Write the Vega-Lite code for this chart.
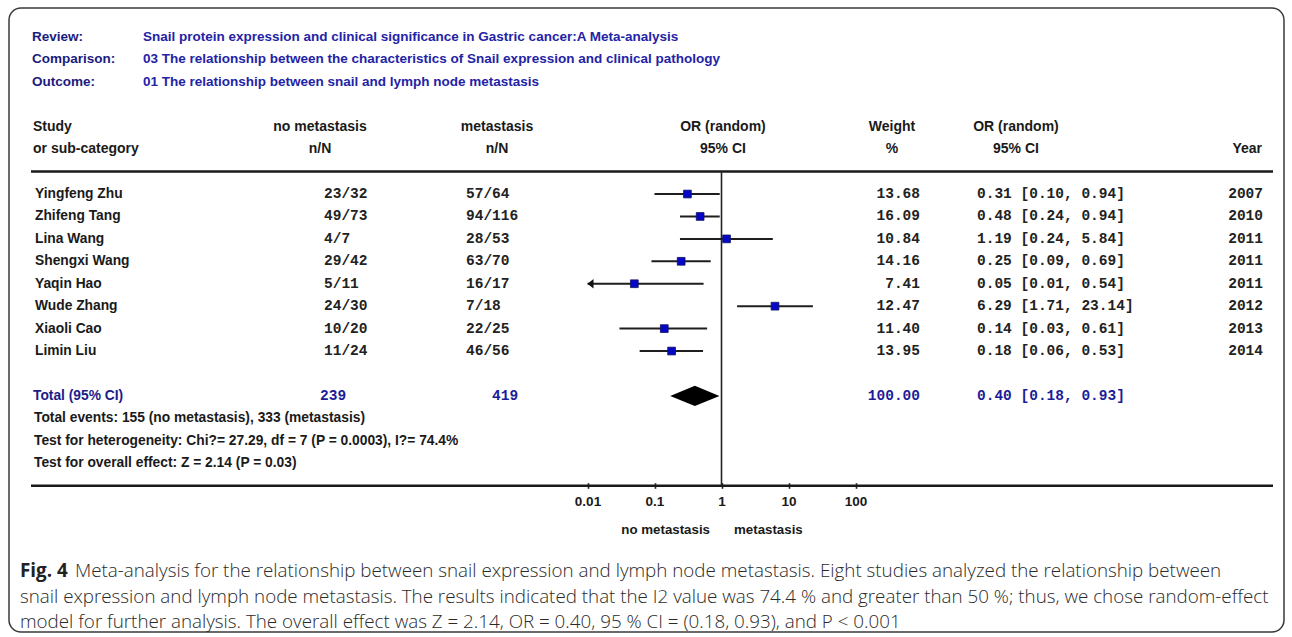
{
  "$schema": "https://vega.github.io/schema/vega-lite/v6.json",
  "width": 1292,
  "height": 637,
  "autosize": {"type": "fit", "contains": "padding"},
  "padding": {"left": 9, "top": 8, "right": 8, "bottom": 5},
  "background": "white",
  "config": {
    "view": {"stroke": "#3a3a3a", "strokeWidth": 1.5, "cornerRadius": 12},
    "text": {"baseline": "middle"}
  },
  "datasets": {
    "studies": [
      {"study": "Yingfeng Zhu", "nm": "23/32", "m": "57/64", "weight": 13.68, "or": 0.31, "lo": 0.10, "hi": 0.94, "ci": "0.31 [0.10, 0.94]", "year": "2007"},
      {"study": "Zhifeng Tang", "nm": "49/73", "m": "94/116", "weight": 16.09, "or": 0.48, "lo": 0.24, "hi": 0.94, "ci": "0.48 [0.24, 0.94]", "year": "2010"},
      {"study": "Lina Wang", "nm": "4/7", "m": "28/53", "weight": 10.84, "or": 1.19, "lo": 0.24, "hi": 5.84, "ci": "1.19 [0.24, 5.84]", "year": "2011"},
      {"study": "Shengxi Wang", "nm": "29/42", "m": "63/70", "weight": 14.16, "or": 0.25, "lo": 0.09, "hi": 0.69, "ci": "0.25 [0.09, 0.69]", "year": "2011"},
      {"study": "Yaqin Hao", "nm": "5/11", "m": "16/17", "weight": 7.41, "or": 0.05, "lo": 0.01, "hi": 0.54, "ci": "0.05 [0.01, 0.54]", "year": "2011"},
      {"study": "Wude Zhang", "nm": "24/30", "m": "7/18", "weight": 12.47, "or": 6.29, "lo": 1.71, "hi": 23.14, "ci": "6.29 [1.71, 23.14]", "year": "2012"},
      {"study": "Xiaoli Cao", "nm": "10/20", "m": "22/25", "weight": 11.40, "or": 0.14, "lo": 0.03, "hi": 0.61, "ci": "0.14 [0.03, 0.61]", "year": "2013"},
      {"study": "Limin Liu", "nm": "11/24", "m": "46/56", "weight": 13.95, "or": 0.18, "lo": 0.06, "hi": 0.53, "ci": "0.18 [0.06, 0.53]", "year": "2014"}
    ],
    "pooled": [
      {"slot": "total", "label": "Total (95% CI)", "nm_total": "239", "m_total": "419", "weight": 100.00, "or": 0.40, "lo": 0.18, "hi": 0.93, "ci": "0.40 [0.18, 0.93]"}
    ],
    "header": [
      {"slot": "hdr1", "label": "Review:", "value": "Snail protein expression and clinical significance in Gastric cancer:A Meta-analysis"},
      {"slot": "hdr2", "label": "Comparison:", "value": "03 The relationship between the characteristics of Snail expression and clinical pathology"},
      {"slot": "hdr3", "label": "Outcome:", "value": "01 The relationship between snail and lymph node metastasis"}
    ],
    "columns": [
      {"slot": "colh1", "study": "Study", "nm": "no metastasis", "m": "metastasis", "plot": "OR (random)", "w": "Weight", "orci": "OR (random)", "year": ""},
      {"slot": "colh2", "study": "or sub-category", "nm": "n/N", "m": "n/N", "plot": "95% CI", "w": "%", "orci": "95% CI", "year": "Year"}
    ],
    "notes": [
      {"slot": "events", "text": "Total events: 155 (no metastasis), 333 (metastasis)"},
      {"slot": "het", "text": "Test for heterogeneity: Chi?= 27.29, df = 7 (P = 0.0003), I?= 74.4%"},
      {"slot": "effect", "text": "Test for overall effect: Z = 2.14 (P = 0.03)"}
    ],
    "lines": [{"slot": "sep"}, {"slot": "axisline"}],
    "nullline": [{"or": 1, "from": "sep", "to": "axisline"}],
    "favours": [
      {"slot": "subtitle", "label": "no metastasis", "side": "left"},
      {"slot": "subtitle", "label": "metastasis", "side": "right"}
    ],
    "caption": [
      {"slot": "cap1", "part": "fig", "text": "Fig. 4"},
      {"slot": "cap1", "part": "body", "text": "Meta-analysis for the relationship between snail expression and lymph node metastasis. Eight studies analyzed the relationship between"},
      {"slot": "cap2", "part": "body", "text": "snail expression and lymph node metastasis. The results indicated that the I2 value was 74.4 % and greater than 50 %; thus, we chose random-effect"},
      {"slot": "cap3", "part": "body", "text": "model for further analysis. The overall effect was Z = 2.14, OR = 0.40, 95 % CI = (0.18, 0.93), and P < 0.001"}
    ]
  },
  "layer": [
    {
      "layer": [
        {
          "data": {"name": "header"},
          "mark": {"type": "text", "align": "left", "font": "Liberation Sans, Arial, sans-serif", "fontSize": 13.5, "fontWeight": "bold", "color": "#1b1b7e"},
          "encoding": {
            "x": {"datum": 23, "type": "quantitative", "scale": {"domain": [0, 1275], "nice": false, "zero": false}, "axis": null},
            "y": {"field": "slot", "type": "nominal", "scale": {"type": "point", "domain": ["hdr1","hdr2","hdr3","gap1","colh1","colh2","sep","Yingfeng Zhu","Zhifeng Tang","Lina Wang","Shengxi Wang","Yaqin Hao","Wude Zhang","Xiaoli Cao","Limin Liu","gap2","total","events","het","effect","axisline","ticks","subtitle","gap3","cap1","cap2","cap3"], "padding": 0.909, "align": 0.711}, "axis": null},
            "text": {"field": "label"}
          }
        },
        {
          "data": {"name": "header"},
          "mark": {"type": "text", "align": "left", "font": "Liberation Sans, Arial, sans-serif", "fontSize": 13.5, "fontWeight": "bold", "color": "#2323a6"},
          "encoding": {
            "x": {"datum": 134, "type": "quantitative"},
            "y": {"field": "slot", "type": "nominal"},
            "text": {"field": "value"}
          }
        },
        {
          "data": {"name": "columns"},
          "mark": {"type": "text", "align": "left", "font": "Liberation Sans, Arial, sans-serif", "fontSize": 14, "fontWeight": "bold", "color": "#1a1a1a"},
          "encoding": {"x": {"datum": 24, "type": "quantitative"}, "y": {"field": "slot", "type": "nominal"}, "text": {"field": "study"}}
        },
        {
          "data": {"name": "columns"},
          "mark": {"type": "text", "align": "center", "font": "Liberation Sans, Arial, sans-serif", "fontSize": 14, "fontWeight": "bold", "color": "#1a1a1a"},
          "encoding": {"x": {"datum": 311, "type": "quantitative"}, "y": {"field": "slot", "type": "nominal"}, "text": {"field": "nm"}}
        },
        {
          "data": {"name": "columns"},
          "mark": {"type": "text", "align": "center", "font": "Liberation Sans, Arial, sans-serif", "fontSize": 14, "fontWeight": "bold", "color": "#1a1a1a"},
          "encoding": {"x": {"datum": 488, "type": "quantitative"}, "y": {"field": "slot", "type": "nominal"}, "text": {"field": "m"}}
        },
        {
          "data": {"name": "columns"},
          "mark": {"type": "text", "align": "center", "font": "Liberation Sans, Arial, sans-serif", "fontSize": 14, "fontWeight": "bold", "color": "#1a1a1a"},
          "encoding": {"x": {"datum": 714, "type": "quantitative"}, "y": {"field": "slot", "type": "nominal"}, "text": {"field": "plot"}}
        },
        {
          "data": {"name": "columns"},
          "mark": {"type": "text", "align": "center", "font": "Liberation Sans, Arial, sans-serif", "fontSize": 14, "fontWeight": "bold", "color": "#1a1a1a"},
          "encoding": {"x": {"datum": 883, "type": "quantitative"}, "y": {"field": "slot", "type": "nominal"}, "text": {"field": "w"}}
        },
        {
          "data": {"name": "columns"},
          "mark": {"type": "text", "align": "center", "font": "Liberation Sans, Arial, sans-serif", "fontSize": 14, "fontWeight": "bold", "color": "#1a1a1a"},
          "encoding": {"x": {"datum": 1007, "type": "quantitative"}, "y": {"field": "slot", "type": "nominal"}, "text": {"field": "orci"}}
        },
        {
          "data": {"name": "columns"},
          "mark": {"type": "text", "align": "right", "font": "Liberation Sans, Arial, sans-serif", "fontSize": 14, "fontWeight": "bold", "color": "#1a1a1a"},
          "encoding": {"x": {"datum": 1253, "type": "quantitative"}, "y": {"field": "slot", "type": "nominal"}, "text": {"field": "year"}}
        },
        {
          "data": {"name": "studies"},
          "mark": {"type": "text", "align": "left", "font": "Liberation Sans, Arial, sans-serif", "fontSize": 13.8, "fontWeight": "bold", "color": "#1a1a1a"},
          "encoding": {"x": {"datum": 26, "type": "quantitative"}, "y": {"field": "study", "type": "nominal"}, "text": {"field": "study"}}
        },
        {
          "data": {"name": "studies"},
          "mark": {"type": "text", "align": "left", "font": "Liberation Mono, Courier New, monospace", "fontSize": 14.5, "fontWeight": "bold", "color": "#222222"},
          "encoding": {"x": {"datum": 315, "type": "quantitative"}, "y": {"field": "study", "type": "nominal"}, "text": {"field": "nm"}}
        },
        {
          "data": {"name": "studies"},
          "mark": {"type": "text", "align": "left", "font": "Liberation Mono, Courier New, monospace", "fontSize": 14.5, "fontWeight": "bold", "color": "#222222"},
          "encoding": {"x": {"datum": 457, "type": "quantitative"}, "y": {"field": "study", "type": "nominal"}, "text": {"field": "m"}}
        },
        {
          "data": {"name": "studies"},
          "mark": {"type": "text", "align": "right", "font": "Liberation Mono, Courier New, monospace", "fontSize": 14.5, "fontWeight": "bold", "color": "#222222"},
          "encoding": {"x": {"datum": 911, "type": "quantitative"}, "y": {"field": "study", "type": "nominal"}, "text": {"field": "weight", "type": "quantitative", "format": ".2f"}}
        },
        {
          "data": {"name": "studies"},
          "mark": {"type": "text", "align": "left", "font": "Liberation Mono, Courier New, monospace", "fontSize": 14.5, "fontWeight": "bold", "color": "#222222"},
          "encoding": {"x": {"datum": 968, "type": "quantitative"}, "y": {"field": "study", "type": "nominal"}, "text": {"field": "ci"}}
        },
        {
          "data": {"name": "studies"},
          "mark": {"type": "text", "align": "right", "font": "Liberation Mono, Courier New, monospace", "fontSize": 14.5, "fontWeight": "bold", "color": "#222222"},
          "encoding": {"x": {"datum": 1254, "type": "quantitative"}, "y": {"field": "study", "type": "nominal"}, "text": {"field": "year"}}
        },
        {
          "data": {"name": "pooled"},
          "mark": {"type": "text", "align": "left", "font": "Liberation Sans, Arial, sans-serif", "fontSize": 13.8, "fontWeight": "bold", "color": "#1c1c8a"},
          "encoding": {"x": {"datum": 24, "type": "quantitative"}, "y": {"field": "slot", "type": "nominal"}, "text": {"field": "label"}}
        },
        {
          "data": {"name": "pooled"},
          "mark": {"type": "text", "align": "left", "font": "Liberation Mono, Courier New, monospace", "fontSize": 14.5, "fontWeight": "bold", "color": "#1c1c99"},
          "encoding": {"x": {"datum": 311, "type": "quantitative"}, "y": {"field": "slot", "type": "nominal"}, "text": {"field": "nm_total"}}
        },
        {
          "data": {"name": "pooled"},
          "mark": {"type": "text", "align": "left", "font": "Liberation Mono, Courier New, monospace", "fontSize": 14.5, "fontWeight": "bold", "color": "#1c1c99"},
          "encoding": {"x": {"datum": 483, "type": "quantitative"}, "y": {"field": "slot", "type": "nominal"}, "text": {"field": "m_total"}}
        },
        {
          "data": {"name": "pooled"},
          "mark": {"type": "text", "align": "right", "font": "Liberation Mono, Courier New, monospace", "fontSize": 14.5, "fontWeight": "bold", "color": "#1c1c99"},
          "encoding": {"x": {"datum": 911, "type": "quantitative"}, "y": {"field": "slot", "type": "nominal"}, "text": {"field": "weight", "type": "quantitative", "format": ".2f"}}
        },
        {
          "data": {"name": "pooled"},
          "mark": {"type": "text", "align": "left", "font": "Liberation Mono, Courier New, monospace", "fontSize": 14.5, "fontWeight": "bold", "color": "#1c1c99"},
          "encoding": {"x": {"datum": 968, "type": "quantitative"}, "y": {"field": "slot", "type": "nominal"}, "text": {"field": "ci"}}
        },
        {
          "data": {"name": "notes"},
          "mark": {"type": "text", "align": "left", "font": "Liberation Sans, Arial, sans-serif", "fontSize": 13.8, "fontWeight": "bold", "color": "#1a1a1a"},
          "encoding": {"x": {"datum": 25, "type": "quantitative"}, "y": {"field": "slot", "type": "nominal"}, "text": {"field": "text"}}
        },
        {
          "data": {"name": "lines"},
          "mark": {"type": "rule", "color": "#1a1a1a", "strokeWidth": 2.5},
          "encoding": {"x": {"datum": 22, "type": "quantitative"}, "x2": {"datum": 1264}, "y": {"field": "slot", "type": "nominal"}}
        },
        {
          "data": {"name": "caption"},
          "transform": [{"filter": "datum.part == 'fig'"}],
          "mark": {"type": "text", "align": "left", "dy": -4, "font": "Open Sans, sans-serif", "fontSize": 18.8, "fontWeight": "bold", "color": "#222222"},
          "encoding": {"x": {"datum": 11, "type": "quantitative"}, "y": {"field": "slot", "type": "nominal"}, "text": {"field": "text"}}
        },
        {
          "data": {"name": "caption"},
          "transform": [{"filter": "datum.part == 'body' && datum.slot == 'cap1'"}],
          "mark": {"type": "text", "align": "left", "dy": -4, "font": "Open Sans, sans-serif", "fontSize": 18.8, "fontWeight": 300, "color": "#2a2a2a"},
          "encoding": {"x": {"datum": 66, "type": "quantitative"}, "y": {"field": "slot", "type": "nominal"}, "text": {"field": "text"}}
        },
        {
          "data": {"name": "caption"},
          "transform": [{"filter": "datum.slot == 'cap2'"}],
          "mark": {"type": "text", "align": "left", "dy": -1, "font": "Open Sans, sans-serif", "fontSize": 18.8, "fontWeight": 300, "color": "#2a2a2a"},
          "encoding": {"x": {"datum": 11, "type": "quantitative"}, "y": {"field": "slot", "type": "nominal"}, "text": {"field": "text"}}
        },
        {
          "data": {"name": "caption"},
          "transform": [{"filter": "datum.slot == 'cap3'"}],
          "mark": {"type": "text", "align": "left", "dy": 1.5, "font": "Open Sans, sans-serif", "fontSize": 18.8, "fontWeight": 300, "color": "#2a2a2a"},
          "encoding": {"x": {"datum": 11, "type": "quantitative"}, "y": {"field": "slot", "type": "nominal"}, "text": {"field": "text"}}
        }
      ]
    },
    {
      "layer": [
        {
          "data": {"name": "nullline"},
          "mark": {"type": "rule", "color": "#222222", "strokeWidth": 1.6},
          "encoding": {
            "x": {"field": "or", "type": "quantitative", "scale": {"type": "log", "domain": [0.01, 100], "range": [578.5, 846.5], "nice": false},
                  "axis": {"orient": "bottom", "offset": -149.3, "values": [0.01, 0.1, 1, 10, 100], "format": "~g", "title": null, "grid": false, "domain": false, "ticks": true, "tickSize": 5.6, "tickWidth": 1.6, "tickColor": "#222222", "labelPadding": 6.5, "labelFont": "Liberation Sans, Arial, sans-serif", "labelFontSize": 13.5, "labelFontWeight": "bold", "labelColor": "#1a1a1a", "labelFlush": false, "labelOverlap": false}},
            "y": {"field": "from", "type": "nominal"},
            "y2": {"field": "to"}
          }
        },
        {
          "data": {"name": "studies"},
          "mark": {"type": "rule", "color": "#1e1e1e", "strokeWidth": 2},
          "encoding": {
            "x": {"field": "lo", "type": "quantitative"},
            "x2": {"field": "hi"},
            "y": {"field": "study", "type": "nominal"}
          }
        },
        {
          "data": {"name": "studies"},
          "transform": [{"filter": "datum.lo <= 0.01"}],
          "mark": {"type": "point", "shape": "M0,0L1,-0.8L1,0.8Z", "filled": true, "size": 144, "fill": "#111111", "strokeWidth": 0, "opacity": 1},
          "encoding": {
            "x": {"field": "lo", "type": "quantitative"},
            "y": {"field": "study", "type": "nominal"}
          }
        },
        {
          "data": {"name": "studies"},
          "mark": {"type": "point", "shape": "square", "filled": true, "size": 60, "fill": "#0606c8", "stroke": "#121260", "strokeWidth": 0.8, "opacity": 1},
          "encoding": {
            "x": {"field": "or", "type": "quantitative"},
            "y": {"field": "study", "type": "nominal"}
          }
        },
        {
          "data": {"name": "pooled"},
          "mark": {"type": "point", "shape": "M-1,0L0,-0.41L1,0L0,0.41Z", "filled": true, "size": 2421, "fill": "#000000", "strokeWidth": 0, "opacity": 1},
          "encoding": {
            "x": {"field": "or", "type": "quantitative"},
            "y": {"field": "slot", "type": "nominal"}
          }
        },
        {
          "data": {"name": "favours"},
          "transform": [{"filter": "datum.side == 'left'"}],
          "mark": {"type": "text", "align": "right", "dx": -11.5, "font": "Liberation Sans, Arial, sans-serif", "fontSize": 13.3, "fontWeight": "bold", "color": "#1a1a1a"},
          "encoding": {
            "x": {"datum": 1, "type": "quantitative"},
            "y": {"field": "slot", "type": "nominal"},
            "text": {"field": "label"}
          }
        },
        {
          "data": {"name": "favours"},
          "transform": [{"filter": "datum.side == 'right'"}],
          "mark": {"type": "text", "align": "left", "dx": 12.5, "font": "Liberation Sans, Arial, sans-serif", "fontSize": 13.3, "fontWeight": "bold", "color": "#1a1a1a"},
          "encoding": {
            "x": {"datum": 1, "type": "quantitative"},
            "y": {"field": "slot", "type": "nominal"},
            "text": {"field": "label"}
          }
        }
      ]
    }
  ],
  "resolve": {"scale": {"x": "independent"}, "axis": {"x": "independent"}}
}
